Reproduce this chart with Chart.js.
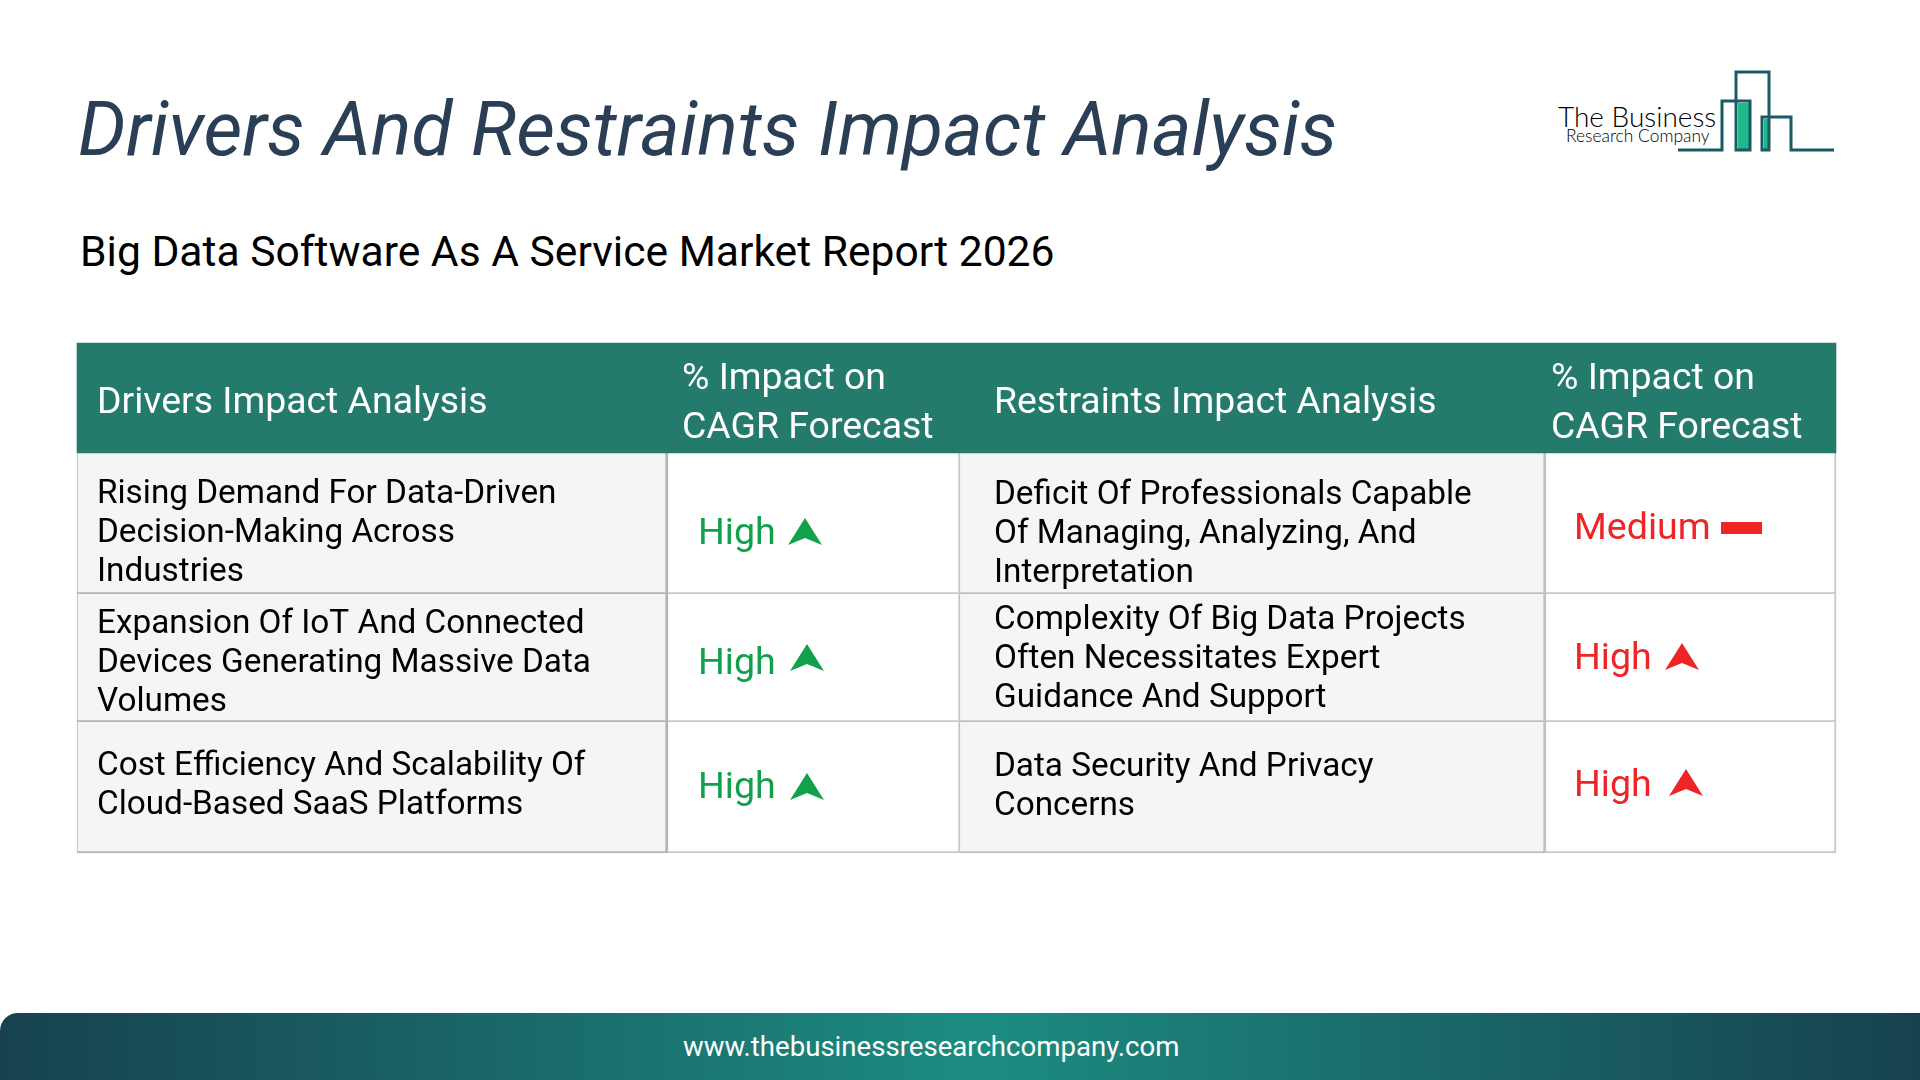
<!DOCTYPE html>
<html>
<head>
<meta charset="utf-8">
<title>Drivers And Restraints Impact Analysis</title>
<script src="https://cdn.jsdelivr.net/npm/chart.js@4"></script>
<style>
    html, body { margin: 0; padding: 0; background: #fff; width: 1920px; height: 1080px; overflow: hidden; font-family: Roboto, sans-serif; }
    #table_chart { position: absolute; left: 0; top: 0; }
    .title { position: absolute; left: 78px; top: 85px; margin: 0; font-size: 75.4px; line-height: 88px; font-weight: 400; font-style: italic; color: #2a3f55; white-space: nowrap; }
    .subtitle { position: absolute; left: 80px; top: 223px; margin: 0; font-size: 42.6px; line-height: 56px; font-weight: 400; color: #000; white-space: nowrap; }
    .footer { position: absolute; left: 0; top: 1013px; width: 1920px; height: 67px; border-top-left-radius: 18px;
        background: linear-gradient(90deg, #17414f 0%, #1c8c80 51%, #17414f 100%); }
    .footer span { position: absolute; left: 683px; top: 18px; font-size: 27.6px; line-height: 32px; color: #fff; white-space: nowrap; }
    .logo { position: absolute; left: 1540px; top: 50px; }
</style>
</head>
<body>
<h1 class="title">Drivers And Restraints Impact Analysis</h1>
<h2 class="subtitle">Big Data Software As A Service Market Report 2026</h2>
<svg class="logo" width="310" height="120" viewBox="1540 50 310 120">
    <rect x="1738" y="103" width="12" height="47" fill="#1fb98a"/>
    <rect x="1764" y="119" width="6" height="31" fill="#1fb98a"/>
    <polyline points="1678,150 1722,150 1722,101 1750,101 1750,150 1736,150 1736,72 1769,72 1769,150 1762,150 1762,117 1791,117 1791,150 1834,150" fill="none" stroke="#1a5a66" stroke-width="3"/>
    <text x="1558" y="127" font-family="Lato" font-weight="300" font-size="28" fill="#000">The Business</text>
    <text x="1566" y="142" font-family="Lato" font-weight="300" font-size="17.4" fill="#000">Research Company</text>
</svg>
<canvas id="table_chart" width="1920" height="1080"></canvas>
<div class="footer"><span>www.thebusinessresearchcompany.com</span></div>

<script>
// table content
const header_left = ['Drivers Impact Analysis']
const header_right = ['Restraints Impact Analysis']
const header_impact = ['% Impact on', 'CAGR Forecast']

const drivers = [
    ['Rising Demand For Data-Driven', 'Decision-Making Across', 'Industries'],
    ['Expansion Of IoT And Connected', 'Devices Generating Massive Data', 'Volumes'],
    ['Cost Efficiency And Scalability Of', 'Cloud-Based SaaS Platforms']
]
const driver_impact = ['High', 'High', 'High']

const restraints = [
    ['Deficit Of Professionals Capable', 'Of Managing, Analyzing, And', 'Interpretation'],
    ['Complexity Of Big Data Projects', 'Often Necessitates Expert', 'Guidance And Support'],
    ['Data Security And Privacy', 'Concerns']
]
const restraint_impact = ['Medium', 'High', 'High']

// layout of the table, in page pixels
const col_edges = [77, 668, 960, 1546, 1836]
const row_edges = [343, 453, 594, 722, 853]
const line_height = 39
const header_line_height = 49
const text_x = [97, 682, 994, 1551]
const impact_text_x = [698, 1574]
const driver_text_y = [533.5, 663.5, 786.5]
const restraint_text_y = [534.5, 659.5, 787.5]
const driver_label_y = [534.5, 664.5, 788.5]
const restraint_label_y = [529.5, 659.5, 787]
const driver_mark_x = [805, 807, 807]
const driver_mark_y = [532, 658, 787]
const restraint_mark_x = [1741, 1682, 1686]
const restraint_mark_y = [528, 657, 783]

const green = '#12a14b'
const red = '#ee2427'

function makeMark(color, level) {
    const c = document.createElement('canvas')
    const g = c.getContext('2d')
    if (level == 'Medium') {
        c.width = 41
        c.height = 12
        g.fillStyle = color
        g.fillRect(0, 0, 41, 12)
        return c
    }
    c.width = 36
    c.height = 28
    g.fillStyle = color
    g.beginPath()
    g.moveTo(18, 0)
    g.lineTo(35, 27)
    g.lineTo(18, 20)
    g.lineTo(1, 27)
    g.closePath()
    g.fill()
    return c
}

function cellData(i) {
    const center = (col_edges[i] + col_edges[i + 1]) / 2
    return [0, 1, 2].map((r) => ({ x: center, y: [row_edges[r + 1], row_edges[r + 2]] }))
}

function cellDataset(i, fill, border) {
    return {
        type: 'bar',
        stack: 'cells',
        data: cellData(i),
        barThickness: col_edges[i + 1] - col_edges[i],
        backgroundColor: fill,
        borderColor: border,
        borderWidth: { top: 0, bottom: 2, left: i == 0 ? 1 : 0, right: i == 1 ? 2 : (i == 3 ? 2 : 3) },
        borderSkipped: false
    }
}

const marks_driver = {
    type: 'scatter',
    data: driver_mark_x.map((x, i) => ({ x: x, y: driver_mark_y[i] })),
    pointStyle: driver_impact.map((level) => makeMark(green, level))
}
const marks_restraint = {
    type: 'scatter',
    data: restraint_mark_x.map((x, i) => ({ x: x, y: restraint_mark_y[i] })),
    pointStyle: restraint_impact.map((level) => makeMark(red, level))
}

const header_bar = {
    type: 'bar',
    stack: 'cells',
    data: [{ x: (col_edges[0] + col_edges[4]) / 2, y: [row_edges[0], row_edges[1]] }],
    barThickness: col_edges[4] - col_edges[0],
    backgroundColor: '#247b6b',
    borderWidth: 0
}

const table_text = {
    id: 'table_text',
    afterDatasetsDraw(chart) {
        const ctx = chart.ctx
        const x = chart.scales.x
        const y = chart.scales.y

        function lines(list, col, center, color, size, spacing) {
            ctx.font = `400 ${size}px Roboto`
            ctx.fillStyle = color
            ctx.textBaseline = 'middle'
            ctx.textAlign = 'left'
            list.forEach((line, i) => {
                const offset = (i - (list.length - 1) / 2) * spacing
                ctx.fillText(line, x.getPixelForValue(col), y.getPixelForValue(center + offset))
            })
        }

        ctx.save()
        // header
        lines(header_left, text_x[0], 403.5, '#fff', 37.4, header_line_height)
        lines(header_impact, text_x[1], 404.5, '#fff', 37.4, header_line_height)
        lines(header_right, text_x[2], 403.5, '#fff', 37.4, header_line_height)
        lines(header_impact, text_x[3], 404.5, '#fff', 37.4, header_line_height)
        // rows
        drivers.forEach((row, i) => lines(row, text_x[0], driver_text_y[i], '#000', 33.3, line_height))
        restraints.forEach((row, i) => lines(row, text_x[2], restraint_text_y[i], '#000', 33.3, line_height))
        driver_impact.forEach((level, i) => lines([level], impact_text_x[0], driver_label_y[i], green, 37.6, line_height))
        restraint_impact.forEach((level, i) => lines([level], impact_text_x[1], restraint_label_y[i], red, 37.6, line_height))
        ctx.restore()
    }
}

new Chart(document.getElementById('table_chart'), {
    type: 'bar',
    data: {
        datasets: [
            marks_driver,
            marks_restraint,
            header_bar,
            cellDataset(0, '#f3f5f7', '#b4b4b4'),
            cellDataset(1, '#ffffff', '#c8c8c8'),
            cellDataset(2, '#f3f5f7', '#c0c0c0'),
            cellDataset(3, '#ffffff', '#c8c8c8')
        ]
    },
    options: {
        responsive: false,
        animation: false,
        events: [],
        layout: { autoPadding: false },
        plugins: {
            legend: { display: false },
            tooltip: { enabled: false }
        },
        scales: {
            x: { type: 'linear', display: false, min: 0, max: 1920, offset: false, grid: { display: false } },
            y: { type: 'linear', display: false, min: 0, max: 1080, reverse: true, stacked: false, grid: { display: false } }
        }
    },
    plugins: [table_text]
})
</script>
</body>
</html>
